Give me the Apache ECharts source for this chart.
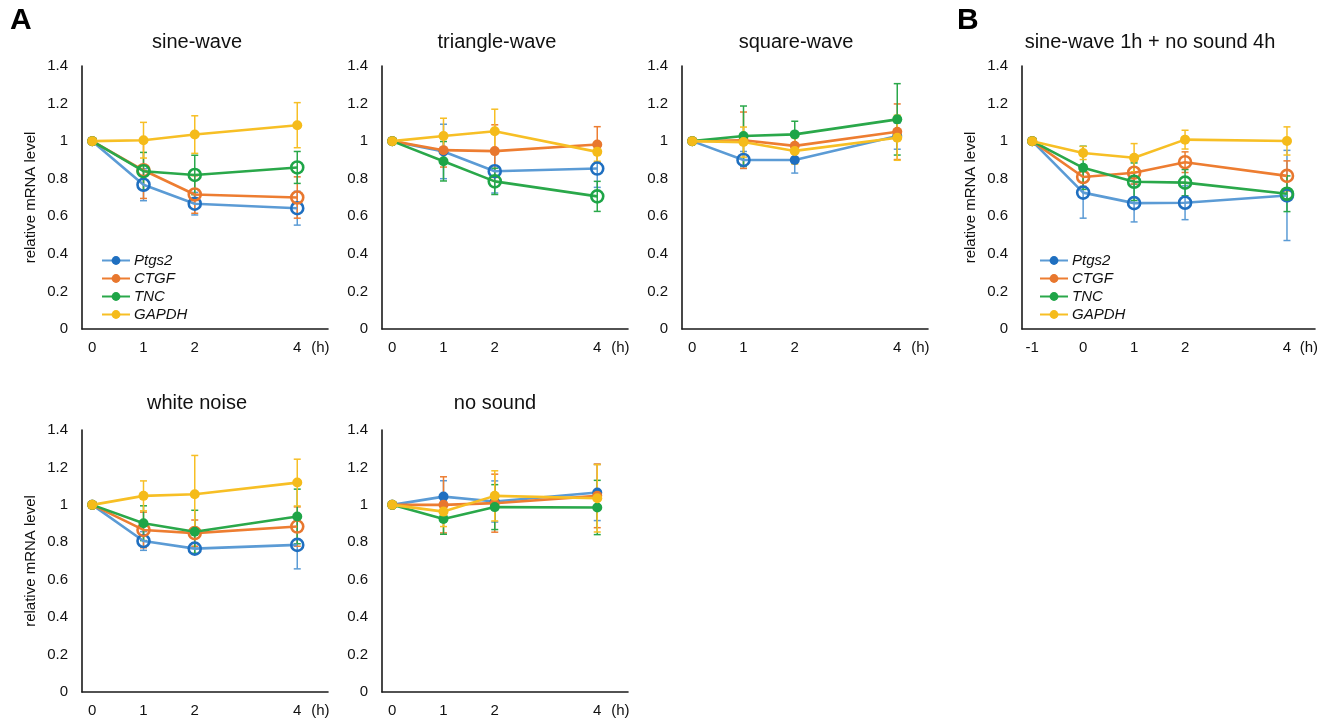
<!DOCTYPE html>
<html>
<head>
<meta charset="utf-8">
<script src="https://cdn.jsdelivr.net/npm/echarts@6/dist/echarts.min.js"></script>
<style>
html,body{margin:0;padding:0;background:#fff;}
#c{width:1335px;height:723px;}
</style>
</head>
<body>
<div id="c"></div>
<script>
// ---------- data ----------
const genes = ['Ptgs2', 'CTGF', 'TNC', 'GAPDH'];
const hoursA = [0, 1, 2, 4];
const hoursB = [-1, 0, 1, 2, 4];
const xTicksA = [0, 1, 2, 4];
const xTicksB = [-1, 0, 1, 2, 4];
const yTicks = [0, 0.2, 0.4, 0.6, 0.8, 1, 1.2, 1.4];
const xUnit = '(h)';
const yName = 'relative mRNA level';

// rows: Ptgs2, CTGF, TNC, GAPDH ; open = 1 marks open (significant) marker
const sineMean = [[1, 0.768, 0.667, 0.643], [1, 0.845, 0.716, 0.700], [1, 0.840, 0.820, 0.860], [1, 1.005, 1.035, 1.085]];
const sineSD   = [[0, 0.085, 0.060, 0.090], [0, 0.150, 0.100, 0.110], [0, 0.100, 0.105, 0.085], [0, 0.095, 0.100, 0.120]];
const sineOpen = [[0, 1, 1, 1], [0, 1, 1, 1], [0, 1, 1, 1], [0, 0, 0, 0]];

const triMean = [[1, 0.945, 0.840, 0.854], [1, 0.952, 0.947, 0.982], [1, 0.893, 0.786, 0.706], [1, 1.027, 1.053, 0.943]];
const triSD   = [[0, 0.145, 0.116, 0.100], [0, 0.090, 0.140, 0.095], [0, 0.105, 0.070, 0.080], [0, 0.095, 0.117, 0.050]];
const triOpen = [[0, 0, 1, 1], [0, 0, 0, 0], [0, 0, 1, 1], [0, 0, 0, 0]];

const sqMean = [[1, 0.900, 0.900, 1.027], [1, 1.005, 0.975, 1.050], [1, 1.027, 1.036, 1.116], [1, 0.995, 0.948, 1.018]];
const sqSD   = [[0, 0.045, 0.070, 0.070], [0, 0.150, 0.060, 0.148], [0, 0.160, 0.070, 0.190], [0, 0.080, 0.070, 0.120]];
const sqOpen = [[0, 1, 0, 0], [0, 0, 0, 0], [0, 0, 0, 0], [0, 0, 0, 0]];

const wnMean = [[1, 0.807, 0.766, 0.786], [1, 0.866, 0.849, 0.884], [1, 0.902, 0.856, 0.938], [1, 1.048, 1.057, 1.119]];
const wnSD   = [[0, 0.050, 0.030, 0.128], [0, 0.095, 0.070, 0.105], [0, 0.093, 0.115, 0.146], [0, 0.080, 0.207, 0.125]];
const wnOpen = [[0, 1, 1, 1], [0, 1, 1, 1], [0, 0, 0, 0], [0, 0, 0, 0]];

const nsMean = [[1, 1.044, 1.018, 1.066], [1, 1.000, 1.009, 1.048], [1, 0.925, 0.988, 0.986], [1, 0.964, 1.048, 1.035]];
const nsSD   = [[0, 0.085, 0.110, 0.150], [0, 0.150, 0.155, 0.170], [0, 0.082, 0.120, 0.145], [0, 0.080, 0.134, 0.180]];
const nsOpen = [[0, 0, 0, 0], [0, 0, 0, 0], [0, 0, 0, 0], [0, 0, 0, 0]];

const bMean = [[1, 0.726, 0.670, 0.672, 0.711], [1, 0.809, 0.832, 0.888, 0.815], [1, 0.858, 0.784, 0.779, 0.720], [1, 0.937, 0.912, 1.008, 1.001]];
const bSD   = [[0, 0.136, 0.100, 0.090, 0.240], [0, 0.050, 0.060, 0.055, 0.080], [0, 0.115, 0.100, 0.070, 0.095], [0, 0.035, 0.075, 0.050, 0.075]];
const bOpen = [[0, 1, 1, 1, 1], [0, 1, 1, 1, 1], [0, 0, 1, 1, 1], [0, 0, 0, 0, 0]];

// ---------- styling / layout ----------
const FONT = '"Liberation Sans", Arial, sans-serif';
const lineColors = ['#5b9bd5', '#ed7d31', '#2aa84a', '#f7bf25'];
const markColors = ['#1f6fc0', '#e8772e', '#1ea547', '#f5bb1a'];

const panels = [
  {title: 'sine-wave', hours: hoursA, ticks: xTicksA, mean: sineMean, sd: sineSD, open: sineOpen,
   left: 82, top: 66, width: 246, height: 263, xmin: -0.2, xmax: 4.6, unitAt: 4.45, tx: 197, ty: 42, yname: true},
  {title: 'triangle-wave', hours: hoursA, ticks: xTicksA, mean: triMean, sd: triSD, open: triOpen,
   left: 382, top: 66, width: 246, height: 263, xmin: -0.2, xmax: 4.6, unitAt: 4.45, tx: 497, ty: 42, yname: false},
  {title: 'square-wave', hours: hoursA, ticks: xTicksA, mean: sqMean, sd: sqSD, open: sqOpen,
   left: 682, top: 66, width: 246, height: 263, xmin: -0.2, xmax: 4.6, unitAt: 4.45, tx: 796, ty: 42, yname: false},
  {title: 'sine-wave 1h + no sound 4h', hours: hoursB, ticks: xTicksB, mean: bMean, sd: bSD, open: bOpen,
   left: 1022, top: 66, width: 293, height: 263, xmin: -1.2, xmax: 4.55, unitAt: 4.43, tx: 1150, ty: 42, yname: true},
  {title: 'white noise', hours: hoursA, ticks: xTicksA, mean: wnMean, sd: wnSD, open: wnOpen,
   left: 82, top: 430, width: 246, height: 262, xmin: -0.2, xmax: 4.6, unitAt: 4.45, tx: 197, ty: 403, yname: true},
  {title: 'no sound', hours: hoursA, ticks: xTicksA, mean: nsMean, sd: nsSD, open: nsOpen,
   left: 382, top: 430, width: 246, height: 262, xmin: -0.2, xmax: 4.6, unitAt: 4.45, tx: 495, ty: 403, yname: false}
];

const grids = [], xAxes = [], yAxes = [], series = [], graphics = [];

panels.forEach((p, i) => {
  grids.push({left: p.left, top: p.top, width: p.width, height: p.height, containLabel: false});
  const tickVals = p.ticks.concat([p.unitAt]);
  xAxes.push({
    type: 'value', gridIndex: i, min: p.xmin, max: p.xmax,
    axisLine: {show: true, onZero: false, lineStyle: {color: '#1a1a1a', width: 1.6}},
    axisTick: {show: false}, splitLine: {show: false},
    axisLabel: {
      customValues: tickVals, margin: 11, fontSize: 15, color: '#111', fontFamily: FONT,
      formatter: v => (p.ticks.indexOf(v) >= 0 ? String(v) : xUnit)
    }
  });
  yAxes.push({
    type: 'value', gridIndex: i, min: 0, max: 1.4,
    axisLine: {show: true, onZero: false, lineStyle: {color: '#1a1a1a', width: 1.6}},
    axisTick: {show: false}, splitLine: {show: false},
    axisLabel: {customValues: yTicks, margin: 14, fontSize: 15, color: '#111', fontFamily: FONT,
      formatter: v => String(+(+v).toFixed(1))},
    name: p.yname ? yName : '', nameLocation: 'middle', nameGap: 44, nameRotate: 90,
    nameTextStyle: {fontSize: 15, color: '#111', fontFamily: FONT}
  });
  graphics.push({type: 'text', x: p.tx, y: p.ty,
    style: {text: p.title, fontSize: 20, fontFamily: FONT, fill: '#111', textAlign: 'center', textVerticalAlign: 'middle'}});

  genes.forEach((g, gi) => {
    // error bars
    series.push({
      name: g + ' SD', type: 'custom', xAxisIndex: i, yAxisIndex: i, z: 2, silent: true,
      data: p.hours.map((h, k) => [h, p.mean[gi][k], p.sd[gi][k]]),
      renderItem: (params, api) => {
        const x = api.value(0), y = api.value(1), e = api.value(2);
        if (!e) return null;
        const top = api.coord([x, y + e]);
        const bot = api.coord([x, y - e]);
        const st = {stroke: lineColors[gi], lineWidth: 1.5};
        const cw = 3.5;
        return {type: 'group', children: [
          {type: 'line', shape: {x1: top[0], y1: top[1], x2: bot[0], y2: bot[1]}, style: st},
          {type: 'line', shape: {x1: top[0] - cw, y1: top[1], x2: top[0] + cw, y2: top[1]}, style: st},
          {type: 'line', shape: {x1: bot[0] - cw, y1: bot[1], x2: bot[0] + cw, y2: bot[1]}, style: st}
        ]};
      }
    });
  });
  genes.forEach((g, gi) => {
    series.push({
      name: g, type: 'line', xAxisIndex: i, yAxisIndex: i, z: 3 + gi,
      symbol: 'circle', symbolSize: 10, showAllSymbol: true,
      lineStyle: {color: lineColors[gi], width: 2.6},
      itemStyle: {color: markColors[gi]},
      emphasis: {disabled: true},
      data: p.hours.map((h, k) => {
        const item = {value: [h, p.mean[gi][k]]};
        if (p.open[gi][k]) {
          item.symbolSize = 12;
          item.itemStyle = {color: 'rgba(255,255,255,0)', borderColor: markColors[gi], borderWidth: 2.6};
        }
        return item;
      })
    });
  });
});

graphics.push({type: 'text', x: 10, y: 21, style: {text: 'A', fontSize: 30, fontWeight: 'bold', fontFamily: FONT, fill: '#000', textVerticalAlign: 'middle'}});
graphics.push({type: 'text', x: 957, y: 21, style: {text: 'B', fontSize: 30, fontWeight: 'bold', fontFamily: FONT, fill: '#000', textVerticalAlign: 'middle'}});

const legendBase = {
  orient: 'vertical', itemWidth: 28, itemHeight: 11, itemGap: 3,
  data: genes.map(g => ({name: g})),
  textStyle: {fontSize: 15, fontStyle: 'italic', color: '#111', fontFamily: FONT, padding: [0, 0, 0, -1]},
  selectedMode: false
};

const chart = echarts.init(document.getElementById('c'));
chart.setOption({
  animation: false,
  backgroundColor: '#fff',
  textStyle: {fontFamily: FONT},
  grid: grids, xAxis: xAxes, yAxis: yAxes, series: series,
  legend: [
    Object.assign({}, legendBase, {left: 96, top: 248}),
    Object.assign({}, legendBase, {left: 1034, top: 248})
  ],
  graphic: graphics
});
</script>
</body>
</html>
